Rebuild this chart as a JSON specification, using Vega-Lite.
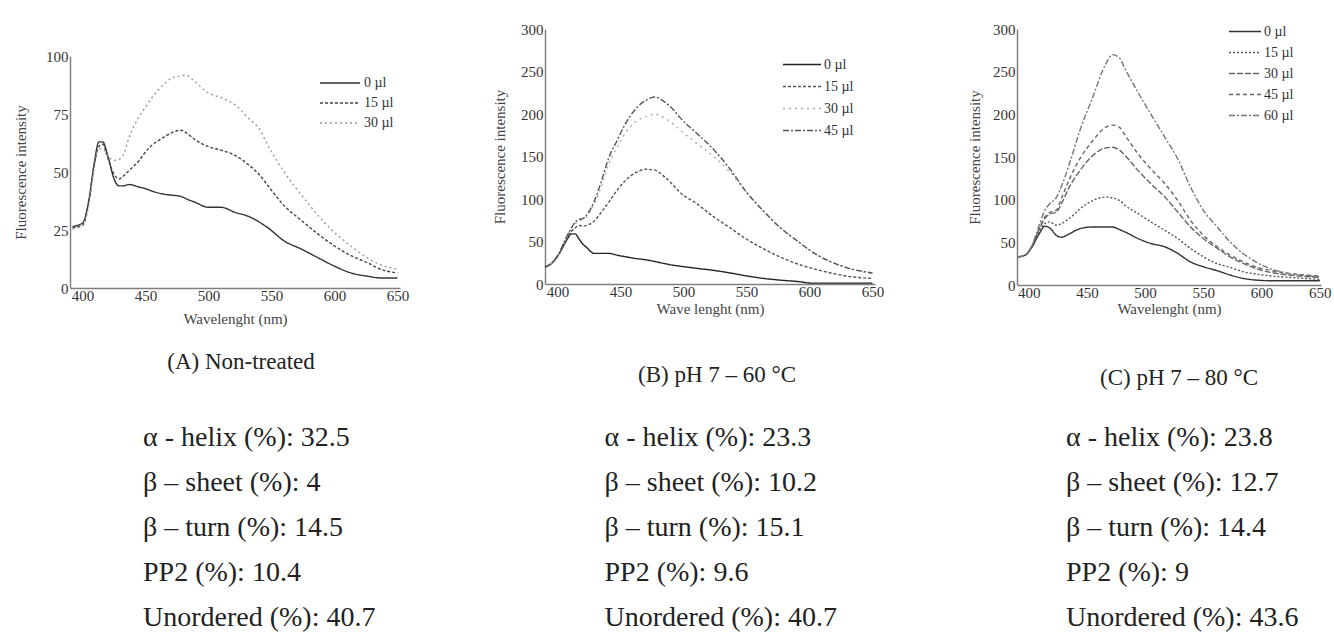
{
  "$schema": "https://vega.github.io/schema/vega-lite/v6.json",
  "background": "white",
  "padding": {"left": 13, "top": 20, "right": 0, "bottom": 0},
  "datasets": {
    "A": [
      {"x":392,"s":"0 µl","y":26.5},{"x":392,"s":"15 µl","y":26},{"x":392,"s":"30 µl","y":25.5},
      {"x":400,"s":"0 µl","y":28},{"x":400,"s":"15 µl","y":27},{"x":400,"s":"30 µl","y":27},
      {"x":405,"s":"0 µl","y":38},{"x":405,"s":"15 µl","y":37},{"x":405,"s":"30 µl","y":36},
      {"x":409,"s":"0 µl","y":53},{"x":409,"s":"15 µl","y":52},{"x":409,"s":"30 µl","y":51},
      {"x":413,"s":"0 µl","y":63},{"x":413,"s":"15 µl","y":61},{"x":413,"s":"30 µl","y":60},
      {"x":416,"s":"0 µl","y":63},{"x":416,"s":"15 µl","y":62},{"x":416,"s":"30 µl","y":60},
      {"x":420,"s":"0 µl","y":57},{"x":420,"s":"15 µl","y":56},{"x":420,"s":"30 µl","y":57},
      {"x":425,"s":"0 µl","y":47},{"x":425,"s":"15 µl","y":49},{"x":425,"s":"30 µl","y":55},
      {"x":429,"s":"0 µl","y":44},{"x":429,"s":"15 µl","y":47},{"x":429,"s":"30 µl","y":55.5},
      {"x":432,"s":"0 µl","y":44},{"x":432,"s":"15 µl","y":48},{"x":432,"s":"30 µl","y":57},
      {"x":437,"s":"0 µl","y":44.6},{"x":437,"s":"15 µl","y":50.7},{"x":437,"s":"30 µl","y":65},
      {"x":445,"s":"0 µl","y":43.5},{"x":445,"s":"15 µl","y":55},{"x":445,"s":"30 µl","y":74},
      {"x":450,"s":"0 µl","y":42.8},{"x":450,"s":"15 µl","y":58.7},{"x":450,"s":"30 µl","y":78},
      {"x":455,"s":"0 µl","y":41.8},{"x":455,"s":"15 µl","y":61.5},{"x":455,"s":"30 µl","y":82},
      {"x":463,"s":"0 µl","y":40.6},{"x":463,"s":"15 µl","y":64.5},{"x":463,"s":"30 µl","y":87},
      {"x":471,"s":"0 µl","y":40},{"x":471,"s":"15 µl","y":67},{"x":471,"s":"30 µl","y":90.6},
      {"x":478,"s":"0 µl","y":39.5},{"x":478,"s":"15 µl","y":68},{"x":478,"s":"30 µl","y":91.5},
      {"x":482,"s":"0 µl","y":38.5},{"x":482,"s":"15 µl","y":67},{"x":482,"s":"30 µl","y":91.7},
      {"x":489,"s":"0 µl","y":37},{"x":489,"s":"15 µl","y":64},{"x":489,"s":"30 µl","y":89},
      {"x":500,"s":"0 µl","y":34.8},{"x":500,"s":"15 µl","y":60.9},{"x":500,"s":"30 µl","y":84},
      {"x":510,"s":"0 µl","y":34.8},{"x":510,"s":"15 µl","y":59.4},{"x":510,"s":"30 µl","y":82},
      {"x":521,"s":"0 µl","y":32.6},{"x":521,"s":"15 µl","y":57.2},{"x":521,"s":"30 µl","y":79},
      {"x":532,"s":"0 µl","y":30.8},{"x":532,"s":"15 µl","y":53},{"x":532,"s":"30 µl","y":73},
      {"x":540,"s":"0 µl","y":28.5},{"x":540,"s":"15 µl","y":49},{"x":540,"s":"30 µl","y":68.8},
      {"x":547,"s":"0 µl","y":26},{"x":547,"s":"15 µl","y":44.2},{"x":547,"s":"30 µl","y":61.6},
      {"x":560,"s":"0 µl","y":20.3},{"x":560,"s":"15 µl","y":35.5},{"x":560,"s":"30 µl","y":50},
      {"x":574,"s":"0 µl","y":16.7},{"x":574,"s":"15 µl","y":29},{"x":574,"s":"30 µl","y":39.9},
      {"x":587,"s":"0 µl","y":13},{"x":587,"s":"15 µl","y":23.2},{"x":587,"s":"30 µl","y":31.2},
      {"x":600,"s":"0 µl","y":9.4},{"x":600,"s":"15 µl","y":18.1},{"x":600,"s":"30 µl","y":23.9},
      {"x":613,"s":"0 µl","y":6.5},{"x":613,"s":"15 µl","y":14},{"x":613,"s":"30 µl","y":18.1},
      {"x":626,"s":"0 µl","y":5.1},{"x":626,"s":"15 µl","y":10.9},{"x":626,"s":"30 µl","y":13},
      {"x":637,"s":"0 µl","y":4.3},{"x":637,"s":"15 µl","y":8},{"x":637,"s":"30 µl","y":10},
      {"x":650,"s":"0 µl","y":4.3},{"x":650,"s":"15 µl","y":6.5},{"x":650,"s":"30 µl","y":8}
    ],
    "B": [
      {"x":390,"s":"0 µl","y":20},{"x":390,"s":"15 µl","y":20},{"x":390,"s":"30 µl","y":20},{"x":390,"s":"45 µl","y":20},
      {"x":395,"s":"0 µl","y":24},{"x":395,"s":"15 µl","y":24},{"x":395,"s":"30 µl","y":24},{"x":395,"s":"45 µl","y":24},
      {"x":401,"s":"0 µl","y":35},{"x":401,"s":"15 µl","y":35},{"x":401,"s":"30 µl","y":36},{"x":401,"s":"45 µl","y":36},
      {"x":407,"s":"0 µl","y":51},{"x":407,"s":"15 µl","y":52},{"x":407,"s":"30 µl","y":55},{"x":407,"s":"45 µl","y":55},
      {"x":411,"s":"0 µl","y":59},{"x":411,"s":"15 µl","y":62},{"x":411,"s":"30 µl","y":66},{"x":411,"s":"45 µl","y":66},
      {"x":414,"s":"0 µl","y":59},{"x":414,"s":"15 µl","y":66},{"x":414,"s":"30 µl","y":71},{"x":414,"s":"45 µl","y":73},
      {"x":417,"s":"0 µl","y":53},{"x":417,"s":"15 µl","y":69},{"x":417,"s":"30 µl","y":74},{"x":417,"s":"45 µl","y":76},
      {"x":420,"s":"0 µl","y":47},{"x":420,"s":"15 µl","y":68},{"x":420,"s":"30 µl","y":76},{"x":420,"s":"45 µl","y":77},
      {"x":423,"s":"0 µl","y":43},{"x":423,"s":"15 µl","y":69},{"x":423,"s":"30 µl","y":79},{"x":423,"s":"45 µl","y":81},
      {"x":429,"s":"0 µl","y":36},{"x":429,"s":"15 µl","y":74},{"x":429,"s":"30 µl","y":94},{"x":429,"s":"45 µl","y":97},
      {"x":435,"s":"0 µl","y":36},{"x":435,"s":"15 µl","y":85},{"x":435,"s":"30 µl","y":116},{"x":435,"s":"45 µl","y":122},
      {"x":441,"s":"0 µl","y":36},{"x":441,"s":"15 µl","y":97},{"x":441,"s":"30 µl","y":143},{"x":441,"s":"45 µl","y":150},
      {"x":447,"s":"0 µl","y":34},{"x":447,"s":"15 µl","y":110},{"x":447,"s":"30 µl","y":160},{"x":447,"s":"45 µl","y":168},
      {"x":454,"s":"0 µl","y":32},{"x":454,"s":"15 µl","y":122},{"x":454,"s":"30 µl","y":178},{"x":454,"s":"45 µl","y":189},
      {"x":462,"s":"0 µl","y":30},{"x":462,"s":"15 µl","y":131},{"x":462,"s":"30 µl","y":191},{"x":462,"s":"45 µl","y":206},
      {"x":470,"s":"0 µl","y":28.5},{"x":470,"s":"15 µl","y":135},{"x":470,"s":"30 µl","y":197},{"x":470,"s":"45 µl","y":216},
      {"x":477,"s":"0 µl","y":26.5},{"x":477,"s":"15 µl","y":134},{"x":477,"s":"30 µl","y":200},{"x":477,"s":"45 µl","y":220},
      {"x":485,"s":"0 µl","y":24},{"x":485,"s":"15 µl","y":126},{"x":485,"s":"30 µl","y":195},{"x":485,"s":"45 µl","y":214},
      {"x":492,"s":"0 µl","y":22},{"x":492,"s":"15 µl","y":116},{"x":492,"s":"30 µl","y":188},{"x":492,"s":"45 µl","y":205},
      {"x":497,"s":"0 µl","y":21},{"x":497,"s":"15 µl","y":108},{"x":497,"s":"30 µl","y":181.5},{"x":497,"s":"45 µl","y":196},
      {"x":510,"s":"0 µl","y":18.5},{"x":510,"s":"15 µl","y":95},{"x":510,"s":"30 µl","y":166},{"x":510,"s":"45 µl","y":178},
      {"x":524,"s":"0 µl","y":16},{"x":524,"s":"15 µl","y":79},{"x":524,"s":"30 µl","y":150},{"x":524,"s":"45 µl","y":158},
      {"x":537,"s":"0 µl","y":13},{"x":537,"s":"15 µl","y":66},{"x":537,"s":"30 µl","y":131.5},{"x":537,"s":"45 µl","y":135},
      {"x":550,"s":"0 µl","y":9.5},{"x":550,"s":"15 µl","y":52.7},{"x":550,"s":"30 µl","y":108},{"x":550,"s":"45 µl","y":108},
      {"x":564,"s":"0 µl","y":6.5},{"x":564,"s":"15 µl","y":41},{"x":564,"s":"30 µl","y":85},{"x":564,"s":"45 µl","y":85},
      {"x":577,"s":"0 µl","y":4.5},{"x":577,"s":"15 µl","y":31.5},{"x":577,"s":"30 µl","y":66},{"x":577,"s":"45 µl","y":66},
      {"x":590,"s":"0 µl","y":3},{"x":590,"s":"15 µl","y":23.8},{"x":590,"s":"30 µl","y":51},{"x":590,"s":"45 µl","y":51},
      {"x":603,"s":"0 µl","y":1},{"x":603,"s":"15 µl","y":18},{"x":603,"s":"30 µl","y":37},{"x":603,"s":"45 µl","y":37},
      {"x":617,"s":"0 µl","y":1},{"x":617,"s":"15 µl","y":13},{"x":617,"s":"30 µl","y":26},{"x":617,"s":"45 µl","y":26},
      {"x":630,"s":"0 µl","y":1},{"x":630,"s":"15 µl","y":9.2},{"x":630,"s":"30 µl","y":19},{"x":630,"s":"45 µl","y":19},
      {"x":650,"s":"0 µl","y":1},{"x":650,"s":"15 µl","y":6.5},{"x":650,"s":"30 µl","y":12},{"x":650,"s":"45 µl","y":13}
    ],
    "C": [
      {"x":391,"s":"0 µl","y":33},{"x":391,"s":"15 µl","y":33},{"x":391,"s":"30 µl","y":33},{"x":391,"s":"45 µl","y":33},{"x":391,"s":"60 µl","y":33},
      {"x":397,"s":"0 µl","y":35},{"x":397,"s":"15 µl","y":35},{"x":397,"s":"30 µl","y":35},{"x":397,"s":"45 µl","y":35},{"x":397,"s":"60 µl","y":35},
      {"x":403,"s":"0 µl","y":44.7},{"x":403,"s":"15 µl","y":45},{"x":403,"s":"30 µl","y":46},{"x":403,"s":"45 µl","y":46},{"x":403,"s":"60 µl","y":47},
      {"x":409,"s":"0 µl","y":60},{"x":409,"s":"15 µl","y":62},{"x":409,"s":"30 µl","y":65},{"x":409,"s":"45 µl","y":66},{"x":409,"s":"60 µl","y":70},
      {"x":414,"s":"0 µl","y":68.8},{"x":414,"s":"15 µl","y":72},{"x":414,"s":"30 µl","y":78},{"x":414,"s":"45 µl","y":80},{"x":414,"s":"60 µl","y":88},
      {"x":418,"s":"0 µl","y":67},{"x":418,"s":"15 µl","y":74},{"x":418,"s":"30 µl","y":83},{"x":418,"s":"45 µl","y":85},{"x":418,"s":"60 µl","y":95},
      {"x":424,"s":"0 µl","y":58},{"x":424,"s":"15 µl","y":70},{"x":424,"s":"30 µl","y":85.5},{"x":424,"s":"45 µl","y":88},{"x":424,"s":"60 µl","y":103},
      {"x":428,"s":"0 µl","y":56},{"x":428,"s":"15 µl","y":72},{"x":428,"s":"30 µl","y":95},{"x":428,"s":"45 µl","y":101},{"x":428,"s":"60 µl","y":115},
      {"x":435,"s":"0 µl","y":60},{"x":435,"s":"15 µl","y":78},{"x":435,"s":"30 µl","y":115},{"x":435,"s":"45 µl","y":124},{"x":435,"s":"60 µl","y":142},
      {"x":444,"s":"0 µl","y":66},{"x":444,"s":"15 µl","y":89},{"x":444,"s":"30 µl","y":134},{"x":444,"s":"45 µl","y":148},{"x":444,"s":"60 µl","y":181},
      {"x":455,"s":"0 µl","y":68},{"x":455,"s":"15 µl","y":99},{"x":455,"s":"30 µl","y":151.6},{"x":455,"s":"45 µl","y":169},{"x":455,"s":"60 µl","y":220},
      {"x":466,"s":"0 µl","y":68},{"x":466,"s":"15 µl","y":103},{"x":466,"s":"30 µl","y":160.6},{"x":466,"s":"45 µl","y":184.7},{"x":466,"s":"60 µl","y":258.5},
      {"x":472,"s":"0 µl","y":68},{"x":472,"s":"15 µl","y":102},{"x":472,"s":"30 µl","y":161.4},{"x":472,"s":"45 µl","y":187.4},{"x":472,"s":"60 µl","y":270},
      {"x":478,"s":"0 µl","y":65},{"x":478,"s":"15 µl","y":99},{"x":478,"s":"30 µl","y":158},{"x":478,"s":"45 µl","y":184.7},{"x":478,"s":"60 µl","y":266},
      {"x":483,"s":"0 µl","y":62},{"x":483,"s":"15 µl","y":93},{"x":483,"s":"30 µl","y":151.6},{"x":483,"s":"45 µl","y":175},{"x":483,"s":"60 µl","y":252.7},
      {"x":494,"s":"0 µl","y":54.4},{"x":494,"s":"15 µl","y":83.6},{"x":494,"s":"30 µl","y":134},{"x":494,"s":"45 µl","y":153.6},{"x":494,"s":"60 µl","y":225.5},
      {"x":505,"s":"0 µl","y":48.6},{"x":505,"s":"15 µl","y":73.9},{"x":505,"s":"30 µl","y":118.6},{"x":505,"s":"45 µl","y":136},{"x":505,"s":"60 µl","y":200},
      {"x":517,"s":"0 µl","y":44.7},{"x":517,"s":"15 µl","y":64},{"x":517,"s":"30 µl","y":103},{"x":517,"s":"45 µl","y":118.6},{"x":517,"s":"60 µl","y":173},
      {"x":528,"s":"0 µl","y":37},{"x":528,"s":"15 µl","y":54.4},{"x":528,"s":"30 µl","y":85.5},{"x":528,"s":"45 µl","y":99},{"x":528,"s":"60 µl","y":147.7},
      {"x":539,"s":"0 µl","y":27},{"x":539,"s":"15 µl","y":42.8},{"x":539,"s":"30 µl","y":68},{"x":539,"s":"45 µl","y":75.8},{"x":539,"s":"60 µl","y":114.7},
      {"x":550,"s":"0 µl","y":21.4},{"x":550,"s":"15 µl","y":33},{"x":550,"s":"30 µl","y":54.4},{"x":550,"s":"45 µl","y":58.3},{"x":550,"s":"60 µl","y":87.5},
      {"x":562,"s":"0 µl","y":16.7},{"x":562,"s":"15 µl","y":25},{"x":562,"s":"30 µl","y":42.8},{"x":562,"s":"45 µl","y":44.7},{"x":562,"s":"60 µl","y":68},
      {"x":573,"s":"0 µl","y":11.7},{"x":573,"s":"15 µl","y":20.6},{"x":573,"s":"30 µl","y":33},{"x":573,"s":"45 µl","y":35},{"x":573,"s":"60 µl","y":50.5},
      {"x":584,"s":"0 µl","y":7.8},{"x":584,"s":"15 µl","y":15.6},{"x":584,"s":"30 µl","y":25.3},{"x":584,"s":"45 µl","y":27.2},{"x":584,"s":"60 µl","y":37},
      {"x":595,"s":"0 µl","y":5.8},{"x":595,"s":"15 µl","y":12.8},{"x":595,"s":"30 µl","y":19.4},{"x":595,"s":"45 µl","y":21.4},{"x":595,"s":"60 µl","y":27.2},
      {"x":609,"s":"0 µl","y":5},{"x":609,"s":"15 µl","y":10.5},{"x":609,"s":"30 µl","y":14.4},{"x":609,"s":"45 µl","y":16.7},{"x":609,"s":"60 µl","y":18.3},
      {"x":623,"s":"0 µl","y":5},{"x":623,"s":"15 µl","y":9},{"x":623,"s":"30 µl","y":11.7},{"x":623,"s":"45 µl","y":13.6},{"x":623,"s":"60 µl","y":13.6},
      {"x":650,"s":"0 µl","y":5},{"x":650,"s":"15 µl","y":6.6},{"x":650,"s":"30 µl","y":9},{"x":650,"s":"45 µl","y":10.5},{"x":650,"s":"60 µl","y":9.7}
    ],
    "stats": [
      {"p":"A","r":1,"t":"α - helix (%): 32.5"},{"p":"A","r":2,"t":"β – sheet (%): 4"},{"p":"A","r":3,"t":"β – turn (%): 14.5"},{"p":"A","r":4,"t":"PP2 (%): 10.4"},{"p":"A","r":5,"t":"Unordered (%): 40.7"},
      {"p":"B","r":1,"t":"α - helix (%): 23.3"},{"p":"B","r":2,"t":"β – sheet (%): 10.2"},{"p":"B","r":3,"t":"β – turn (%): 15.1"},{"p":"B","r":4,"t":"PP2 (%): 9.6"},{"p":"B","r":5,"t":"Unordered (%): 40.7"},
      {"p":"C","r":1,"t":"α - helix (%): 23.8"},{"p":"C","r":2,"t":"β – sheet (%): 12.7"},{"p":"C","r":3,"t":"β – turn (%): 14.4"},{"p":"C","r":4,"t":"PP2 (%): 9"},{"p":"C","r":5,"t":"Unordered (%): 43.6"}
    ]
  },
  "vconcat": [
    {
      "hconcat": [
        {
          "vconcat": [
            {"width": 330, "height": 20, "data": {"values": [{"a": 1}]}, "mark": {"type": "text", "text": ""}, "encoding": {}},
            {
              "width": 330, "height": 232,
              "data": {"name": "A"},
              "title": {"text": "(A) Non-treated", "offset": 25, "dx": 6},
              "mark": {"type": "line", "strokeWidth": 1.4, "interpolate": "monotone"},
              "encoding": {
                "x": {"field": "x", "type": "quantitative", "scale": {"domain": [390, 652], "nice": false, "zero": false},
                      "axis": {"values": [400, 450, 500, 550, 600, 650], "title": "Wavelenght (nm)", "titlePadding": 8}},
                "y": {"field": "y", "type": "quantitative", "scale": {"domain": [0, 100], "nice": false},
                      "axis": {"values": [0, 25, 50, 75, 100], "title": "Fluorescence intensity", "titlePadding": 17}},
                "color": {"field": "s", "type": "nominal",
                          "scale": {"domain": ["0 µl", "15 µl", "30 µl"], "range": ["#333333", "#444444", "#999999"]},
                          "legend": {"orient": "none", "legendX": 259, "legendY": 43, "title": null, "symbolType": "M-2,0H2", "symbolSize": 400, "labelOffset": 13, "rowPadding": 2, "padding": 0}},
                "strokeDash": {"field": "s", "type": "nominal",
                          "scale": {"domain": ["0 µl", "15 µl", "30 µl"], "range": [[1, 0], [3, 2], [2, 3]]},
                          "legend": {"orient": "none", "legendX": 259, "legendY": 43, "title": null, "symbolType": "M-2,0H2", "symbolSize": 400, "labelOffset": 13, "rowPadding": 2, "padding": 0}}
              }
            }
          ],
          "spacing": 0
        },
        {
          "width": 330, "height": 255,
          "data": {"name": "B"},
          "title": {"text": "(B) pH 7 – 60 °C", "offset": 48, "dx": 7},
          "mark": {"type": "line", "strokeWidth": 1.4, "interpolate": "monotone"},
          "encoding": {
            "x": {"field": "x", "type": "quantitative", "scale": {"domain": [390, 652], "nice": false, "zero": false},
                  "axis": {"values": [400, 450, 500, 550, 600, 650], "title": "Wave lenght (nm)", "titlePadding": 2}},
            "y": {"field": "y", "type": "quantitative", "scale": {"domain": [0, 300], "nice": false},
                  "axis": {"values": [0, 50, 100, 150, 200, 250, 300], "title": "Fluorescence intensity", "titlePadding": 13.5}},
            "color": {"field": "s", "type": "nominal",
                      "scale": {"domain": ["0 µl", "15 µl", "30 µl", "45 µl"], "range": ["#222222", "#555555", "#aaaaaa", "#555555"]},
                      "legend": {"orient": "none", "legendX": 246, "legendY": 24.5, "title": null, "symbolType": "M-1.9,0H1.9", "symbolSize": 400, "labelOffset": 11, "rowPadding": 4, "padding": 0}},
            "strokeDash": {"field": "s", "type": "nominal",
                      "scale": {"domain": ["0 µl", "15 µl", "30 µl", "45 µl"], "range": [[1, 0], [3, 2], [2, 4], [6, 2, 2, 2]]},
                      "legend": {"orient": "none", "legendX": 246, "legendY": 24.5, "title": null, "symbolType": "M-1.9,0H1.9", "symbolSize": 400, "labelOffset": 11, "rowPadding": 4, "padding": 0}}
          }
        },
        {
          "width": 304, "height": 256,
          "data": {"name": "C"},
          "title": {"text": "(C) pH 7 – 80 °C", "offset": 51, "dx": 10},
          "mark": {"type": "line", "strokeWidth": 1.4, "interpolate": "monotone"},
          "encoding": {
            "x": {"field": "x", "type": "quantitative", "scale": {"domain": [390, 651], "nice": false, "zero": false},
                  "axis": {"values": [400, 450, 500, 550, 600, 650], "title": "Wavelenght (nm)", "titlePadding": 1}},
            "y": {"field": "y", "type": "quantitative", "scale": {"domain": [0, 300], "nice": false},
                  "axis": {"values": [0, 50, 100, 150, 200, 250, 300], "title": "Fluorescence intensity", "titlePadding": 10.5}},
            "color": {"field": "s", "type": "nominal",
                      "scale": {"domain": ["0 µl", "15 µl", "30 µl", "45 µl", "60 µl"], "range": ["#333333", "#555555", "#666666", "#666666", "#777777"]},
                      "legend": {"orient": "none", "legendX": 217, "legendY": -8.5, "title": null, "symbolType": "M-1.6,0H1.6", "symbolSize": 400, "labelOffset": 8, "rowPadding": 3, "padding": 0}},
            "strokeDash": {"field": "s", "type": "nominal",
                      "scale": {"domain": ["0 µl", "15 µl", "30 µl", "45 µl", "60 µl"], "range": [[1, 0], [2, 2], [6, 2], [4, 3], [6, 2, 2, 2]]},
                      "legend": {"orient": "none", "legendX": 217, "legendY": -8.5, "title": null, "symbolType": "M-1.6,0H1.6", "symbolSize": 400, "labelOffset": 8, "rowPadding": 3, "padding": 0}}
          }
        }
      ],
      "spacing": 83,
      "resolve": {"scale": {"color": "independent", "strokeDash": "independent"}, "legend": {"color": "independent", "strokeDash": "independent"}}
    },
    {
      "width": 923, "height": 180,
      "data": {"name": "stats"},
      "mark": {"type": "text", "align": "left", "baseline": "middle", "font": "Liberation Serif", "fontSize": 28, "color": "#222222", "dx": 73},
      "encoding": {
        "x": {"field": "p", "type": "nominal", "scale": {"type": "point", "padding": 0}, "axis": null},
        "y": {"field": "r", "type": "ordinal", "scale": {"type": "point", "padding": 0}, "axis": null},
        "text": {"field": "t"}
      }
    }
  ],
  "spacing": 34,
  "config": {
    "view": {"stroke": null},
    "axis": {"grid": false, "ticks": false, "tickSize": 0, "domainColor": "#808080", "domainWidth": 1.5,
             "labelFont": "Liberation Serif", "labelFontSize": 15, "labelColor": "#333333",
             "titleFont": "Liberation Serif", "titleFontSize": 15, "titleFontWeight": "normal", "titleColor": "#444444",
             "labelOverlap": false, "labelFlush": false},
    "axisX": {"labelPadding": 0},
    "axisY": {"labelPadding": 2},
    "legend": {"labelFont": "Liberation Serif", "labelFontSize": 14, "labelColor": "#333333", "symbolStrokeWidth": 1.4},
    "title": {"font": "Liberation Serif", "fontSize": 23, "fontWeight": "normal", "color": "#222222", "orient": "bottom", "anchor": "middle", "frame": "group"}
  }
}
